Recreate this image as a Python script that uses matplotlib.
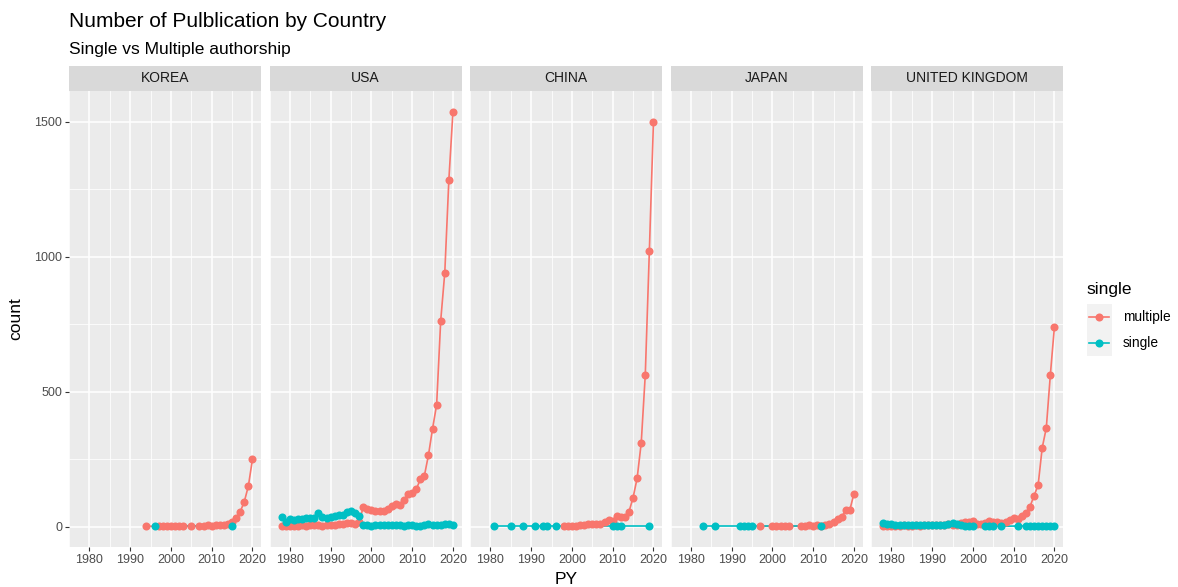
import numpy as np
import matplotlib
matplotlib.use('Agg')
import matplotlib.pyplot as plt

# publication counts per year, split by authorship type
countries = ['KOREA', 'USA', 'CHINA', 'JAPAN', 'UNITED KINGDOM']

korea_multi_years = [1994, 1997, 1998, 1999, 2000, 2001, 2002, 2003, 2005, 2007, 2008, 2009,
                     2010, 2011, 2012, 2013, 2014, 2015, 2016, 2017, 2018, 2019, 2020]
korea_multi = [1, 1, 1, 2, 1, 2, 1, 2, 2, 3, 2, 4, 3, 4, 5, 6, 9, 16, 30, 55, 92, 150, 249]
korea_single_years = [1996, 2015]
korea_single = [1, 1]

usa_years = list(range(1978, 2021))
usa_multi = [2, 1, 3, 2, 3, 4, 3, 5, 4, 6, 3, 5, 6, 7, 9, 10, 12, 14, 11, 18,
             72, 64, 62, 58, 59, 58, 64, 77, 84, 80, 99, 120, 126, 138, 175, 189,
             265, 363, 451, 763, 941, 1285, 1537]
usa_single = [35, 18, 27, 24, 28, 27, 30, 31, 30, 52, 37, 33, 35, 38, 43, 44, 55, 57, 49, 40,
              5, 4, 3, 5, 4, 5, 4, 6, 4, 5, 3, 5, 4, 2, 3, 6, 8, 5, 7, 4, 8, 9, 6]

china_multi_years = list(range(1998, 2021))
china_multi = [1, 2, 2, 3, 4, 6, 8, 10, 9, 8, 18, 25, 22, 38, 35, 37, 55, 107, 179, 309,
               563, 1022, 1498]
china_single_years = [1981, 1985, 1988, 1991, 1993, 1994, 1996, 2010, 2011, 2012, 2019]
china_single = [1, 1, 1, 1, 1, 1, 1, 1, 1, 1, 1]

japan_multi_years = [1997, 2000, 2001, 2002, 2003, 2004, 2007, 2008, 2009, 2010, 2011, 2012,
                     2013, 2014, 2015, 2016, 2017, 2018, 2019, 2020]
japan_multi = [1, 1, 2, 1, 2, 1, 2, 3, 5, 3, 4, 2, 5, 8, 15, 27, 37, 60, 62, 122]
japan_single_years = [1983, 1986, 1992, 1993, 1994, 1995, 2012]
japan_single = [1, 1, 1, 1, 1, 1, 1]

uk_multi_years = list(range(1978, 2021))
uk_multi = [3, 2, 1, 3, 2, 4, 3, 2, 4, 3, 5, 4, 6, 5, 4, 6, 8, 5, 7, 12,
            15, 18, 19, 10, 8, 12, 20, 15, 18, 12, 15, 25, 30, 28, 40, 50, 74, 114, 154,
            292, 365, 563, 741]
uk_single_years = list(range(1978, 2001)) + [2003, 2004, 2005, 2007, 2011,
                                             2013, 2014, 2015, 2016, 2017, 2018, 2019, 2020]
uk_single = [12, 10, 8, 6, 5, 4, 6, 7, 5, 6, 5, 7, 6, 5, 4, 6, 8, 14, 8, 5, 3, 2, 3,
             2, 3, 2, 1, 2, 2, 1, 3, 2, 3, 2, 2, 2]

series = {
    'KOREA': ((korea_multi_years, korea_multi), (korea_single_years, korea_single)),
    'USA': ((usa_years, usa_multi), (usa_years, usa_single)),
    'CHINA': ((china_multi_years, china_multi), (china_single_years, china_single)),
    'JAPAN': ((japan_multi_years, japan_multi), (japan_single_years, japan_single)),
    'UNITED KINGDOM': ((uk_multi_years, uk_multi), (uk_single_years, uk_single)),
}

x_ticks = [1980, 1990, 2000, 2010, 2020]
y_ticks = [0, 500, 1000, 1500]
legend_labels = ['multiple', 'single']

RED = '#F8766D'
TEAL = '#00BFC4'
PANEL_BG = '#EBEBEB'
STRIP_BG = '#D9D9D9'
MS, LW = 5.8, 1.2

plt.rcParams['font.family'] = ['Liberation Sans', 'DejaVu Sans']

# shared scales with ggplot-style 5% expansion
all_x = np.concatenate([np.r_[m[0], s[0]] for m, s in series.values()])
all_y = np.concatenate([np.r_[m[1], s[1]] for m, s in series.values()])
xpad = (all_x.max() - all_x.min()) * 0.05
ypad = (all_y.max() - all_y.min()) * 0.05
xlim = (all_x.min() - xpad, all_x.max() + xpad)
ylim = (all_y.min() - ypad, all_y.max() + ypad)

W, H = 1178, 587
fig = plt.figure(figsize=(W / 100, H / 100), dpi=100)


def px_axes(x0, y0, w, h):
    """Axes placed by pixel box (top-left origin)."""
    return fig.add_axes([x0 / W, 1 - (y0 + h) / H, w / W, h / H])


left, panel_w, gap = 69, 192, 8.5
top, bottom, strip_h = 91, 547, 25

for i, country in enumerate(countries):
    x0 = left + i * (panel_w + gap)
    ax = px_axes(x0, top, panel_w, bottom - top)
    ax.set_facecolor(PANEL_BG)
    for sp in ax.spines.values():
        sp.set_visible(False)
    ax.set_xlim(*xlim)
    ax.set_ylim(*ylim)
    ax.set_xticks(x_ticks)
    ax.set_xticks([1975, 1985, 1995, 2005, 2015], minor=True)
    ax.set_yticks(y_ticks)
    ax.set_yticks([250, 750, 1250], minor=True)
    ax.grid(which='major', color='white', lw=1.1)
    ax.grid(which='minor', color='white', lw=0.55)
    ax.set_axisbelow(True)
    ax.tick_params(which='major', direction='out', length=3, width=0.8, color='#333333',
                   labelcolor='#4D4D4D', labelsize=9, pad=2)
    ax.tick_params(which='minor', length=0)
    if i > 0:
        ax.tick_params(axis='y', which='both', left=False, labelleft=False)

    (mx, my), (sx, sy) = series[country]
    ax.plot(mx, my, color=RED, lw=LW, zorder=2)
    ax.plot(sx, sy, color=TEAL, lw=LW, zorder=2)
    ax.plot(mx, my, 'o', color=RED, ms=MS, mew=0, zorder=3)
    ax.plot(sx, sy, 'o', color=TEAL, ms=MS, mew=0, zorder=4)

    # facet strip
    sax = px_axes(x0, top - strip_h, panel_w, strip_h)
    sax.set_facecolor(STRIP_BG)
    sax.set_xticks([])
    sax.set_yticks([])
    for sp in sax.spines.values():
        sp.set_visible(False)
    sax.text(0.5, 0.5, country, ha='center', va='center', fontsize=10, color='#1A1A1A',
             transform=sax.transAxes)

fig.text(left / W, 1 - 27 / H, 'Number of Pulblication by Country', fontsize=15,
         color='black', va='baseline', ha='left')
fig.text(left / W, 1 - 54 / H, 'Single vs Multiple authorship', fontsize=12.5,
         color='black', va='baseline', ha='left')
fig.text(566 / W, 1 - 580 / H, 'PY', fontsize=12.5, ha='center', va='center')
fig.text(16 / W, 1 - (top + bottom) / 2 / H, 'count', fontsize=12.5, ha='center',
         va='center', rotation=90)

# legend: grey key column with line+point glyphs
fig.text(1086 / W, 1 - 289 / H, 'single', fontsize=12.5, ha='left', va='center')
kax = px_axes(1086.5, 304, 25, 52)
kax.set_facecolor('#F2F2F2')
kax.set_xlim(0, 1)
kax.set_ylim(0, len(legend_labels))
kax.set_xticks([])
kax.set_yticks([])
for sp in kax.spines.values():
    sp.set_visible(False)
for k, (lab, col) in enumerate(zip(legend_labels, [RED, TEAL])):
    yk = len(legend_labels) - k - 0.5
    kax.plot([0.1, 0.9], [yk, yk], color=col, lw=LW)
    kax.plot([0.5], [yk], 'o', color=col, ms=MS, mew=0)
    fig.text(1123 / W, 1 - (304 + 26 * k + 13) / H, lab, fontsize=9.9, ha='left',
             va='center', color='black')

fig.savefig('out.png', dpi=100)
